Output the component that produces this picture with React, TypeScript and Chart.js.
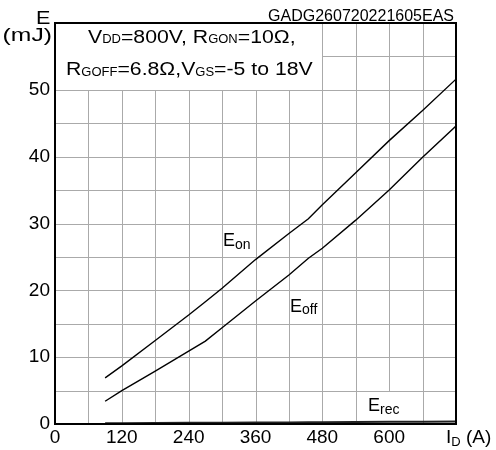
import React, { useEffect, useRef } from "react";
import { Chart, registerables } from "chart.js";

Chart.register(...registerables);

// ---- data ----
const currentA = [90, 120, 180, 240, 270, 300, 360, 420, 455, 480, 540, 600, 660, 720];
const eonMJ = [6.9, 8.7, 12.5, 16.3, 18.3, 20.3, 24.6, 28.5, 30.7, 32.8, 37.6, 42.4, 46.9, 51.6];
const eoffMJ = [3.4, 5.0, 7.9, 10.9, 12.4, 14.4, 18.4, 22.3, 24.8, 26.3, 30.5, 35.0, 39.9, 44.6];
const erecMJ = [0.12, 0.13, 0.15, 0.17, 0.18, 0.19, 0.21, 0.23, 0.25, 0.26, 0.29, 0.32, 0.35, 0.38];
const xTickLabels = ["0", "120", "240", "360", "480", "600"];
const yTickLabels = ["0", "10", "20", "30", "40", "50"];

const FONT = '"Liberation Sans", Arial, Helvetica, sans-serif';
const GRID = "#aaaaaa";

type Seg = { t: string; size: number; sx?: number; dy?: number };

function drawRich(ctx: CanvasRenderingContext2D, x: number, y: number, segs: Seg[], align: "left" | "right" = "left") {
  let total = 0;
  const widths = segs.map((s) => {
    ctx.font = `${s.size}px ${FONT}`;
    const w = ctx.measureText(s.t).width * (s.sx ?? 1);
    total += w;
    return w;
  });
  let cx = align === "right" ? x - total : x;
  segs.forEach((s, i) => {
    ctx.save();
    ctx.font = `${s.size}px ${FONT}`;
    ctx.textBaseline = "alphabetic";
    ctx.textAlign = "left";
    ctx.fillStyle = "#000";
    ctx.translate(cx, y + (s.dy ?? 0));
    ctx.scale(s.sx ?? 1, 1);
    ctx.fillText(s.t, 0, 0);
    ctx.restore();
    cx += widths[i];
  });
}

const decorPlugin = {
  id: "decor",
  beforeDatasetsDraw(chart: any) {
    const { ctx, chartArea } = chart;
    const xs = chart.scales.x;
    const ys = chart.scales.y;
    ctx.save();
    // grid lines from the scales' own ticks
    ctx.strokeStyle = GRID;
    ctx.lineWidth = 1;
    ctx.beginPath();
    xs.ticks.forEach((t: any) => {
      const px = Math.round(xs.getPixelForValue(t.value)) + 0.5;
      ctx.moveTo(px, chartArea.top);
      ctx.lineTo(px, chartArea.bottom);
    });
    ys.ticks.forEach((t: any) => {
      const py = Math.round(ys.getPixelForValue(t.value)) + 0.5;
      ctx.moveTo(chartArea.left, py);
      ctx.lineTo(chartArea.right, py);
    });
    ctx.stroke();

    ctx.fillStyle = "#fff";
    // condition box (top-left)
    const bx1 = Math.round(xs.getPixelForValue(480));
    const by1 = Math.round(ys.getPixelForValue(50));
    ctx.fillRect(chartArea.left, chartArea.top, bx1 - chartArea.left, by1 - chartArea.top);
    // Erec label box
    const ex0 = Math.round(xs.getPixelForValue(540)) + 1;
    const ex1 = Math.round(xs.getPixelForValue(660));
    const ey0 = Math.round(ys.getPixelForValue(5)) + 1;
    ctx.fillRect(ex0, ey0, ex1 - ex0, chartArea.bottom - ey0);
    ctx.restore();
  },
  afterDatasetsDraw(chart: any) {
    const { ctx, chartArea } = chart;
    ctx.save();
    ctx.strokeStyle = "#000";
    ctx.lineWidth = 2;
    ctx.strokeRect(chartArea.left, chartArea.top, chartArea.right - chartArea.left, chartArea.bottom - chartArea.top);
    ctx.restore();

    const S = 1.18;
    drawRich(ctx, 88, 43, [
      { t: "V", size: 18, sx: S },
      { t: "DD", size: 13 },
      { t: "=800V, R", size: 18, sx: S },
      { t: "GON", size: 13 },
      { t: "=10Ω,", size: 18, sx: S },
    ]);
    drawRich(ctx, 66, 75, [
      { t: "R", size: 18, sx: S },
      { t: "GOFF", size: 13, dy: 1 },
      { t: "=6.8Ω,V", size: 18, sx: S },
      { t: "GS", size: 13, dy: 1 },
      { t: "=-5 to 18V", size: 18, sx: S },
    ]);
    drawRich(ctx, 36, 24, [{ t: "E", size: 18, sx: 1.2 }]);
    drawRich(ctx, 52, 41, [{ t: "(mJ)", size: 19, sx: 1.3 }], "right");
    drawRich(ctx, 454, 21, [{ t: "GADG260720221605EAS", size: 16 }], "right");
    drawRich(ctx, 446, 443, [
      { t: "I", size: 19 },
      { t: "D", size: 13, dy: 3 },
      { t: " (A)", size: 19 },
    ]);
    drawRich(ctx, 223, 246, [{ t: "E", size: 18 }, { t: "on", size: 14, dy: 2.5 }]);
    drawRich(ctx, 290, 311.5, [{ t: "E", size: 18 }, { t: "off", size: 14, dy: 2.5 }]);
    drawRich(ctx, 368, 411, [{ t: "E", size: 18 }, { t: "rec", size: 14, dy: 2.5 }]);
  },
};

export default function App() {
  const ref = useRef<HTMLCanvasElement | null>(null);
  useEffect(() => {
    document.body.style.margin = "0";
    const canvas = ref.current!;
    const mk = (vals: number[]) => currentA.map((x, i) => ({ x, y: vals[i] }));
    const chart = new Chart(canvas, {
      type: "scatter",
      data: {
        datasets: [
          { label: "Eon", data: mk(eonMJ), showLine: true, borderColor: "#000", borderWidth: 1.4, pointRadius: 0, tension: 0 },
          { label: "Eoff", data: mk(eoffMJ), showLine: true, borderColor: "#000", borderWidth: 1.4, pointRadius: 0, tension: 0 },
          { label: "Erec", data: mk(erecMJ), showLine: true, borderColor: "#222", borderWidth: 2, pointRadius: 0, tension: 0 },
        ],
      },
      options: {
        animation: false,
        responsive: false,
        devicePixelRatio: 1,
        layout: { padding: { left: 0, top: 23, right: 40, bottom: 0 } },
        plugins: { legend: { display: false }, tooltip: { enabled: false } },
        scales: {
          x: {
            type: "linear",
            min: 0,
            max: 720,
            afterFit: (s: any) => { s.height = 26; },
            ticks: {
              stepSize: 60,
              autoSkip: false,
              maxRotation: 0,
              padding: 2,
              color: "#000",
              font: { family: FONT, size: 19 },
              callback: (v: any) => (xTickLabels.includes(String(v)) ? String(v) : ""),
            },
            grid: { display: false, drawTicks: false },
            border: { display: false },
          },
          y: {
            type: "linear",
            min: 0,
            max: 60,
            afterFit: (s: any) => { s.width = 55; },
            ticks: {
              stepSize: 5,
              autoSkip: false,
              padding: 5,
              color: "#000",
              font: { family: FONT, size: 19 },
              callback: (v: any) => (yTickLabels.includes(String(v)) ? String(v) : ""),
            },
            grid: { display: false, drawTicks: false },
            border: { display: false },
          },
        },
      },
      plugins: [decorPlugin],
    });
    return () => chart.destroy();
  }, []);
  return <canvas ref={ref} width={496} height={450} style={{ display: "block", width: 496, height: 450 }} />;
}
